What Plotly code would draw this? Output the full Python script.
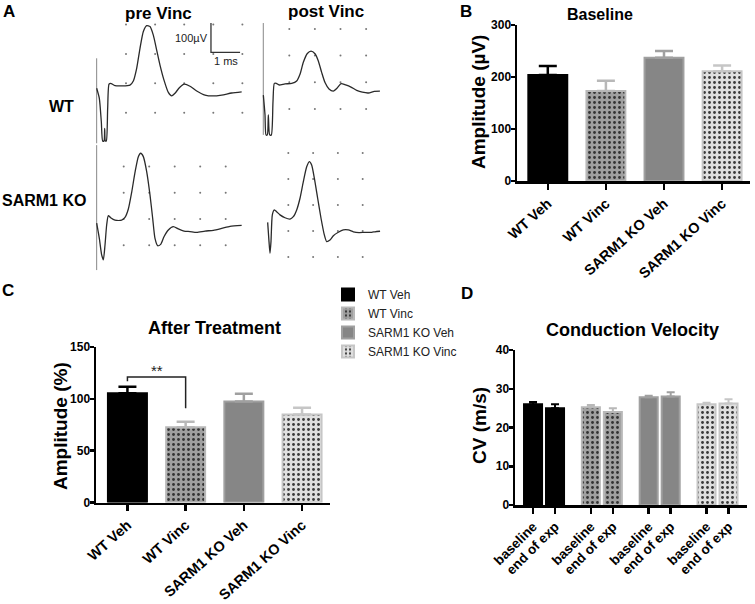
import plotly.graph_objects as go

W, H = 755, 604
FONT = "Liberation Sans, Arial, Helvetica, sans-serif"

# ---------------- data ----------------
groups = ["WT Veh", "WT Vinc", "SARM1 KO Veh", "SARM1 KO Vinc"]
baseline_amp = [204, 173, 237, 211]          # µV
baseline_amp_sem = [17, 20, 13, 11]
after_amp = [105.5, 72.6, 97.4, 84.8]        # %
after_amp_sem = [6.1, 5.2, 7.4, 6.5]
cv_baseline = [26.0, 25.2, 27.8, 26.0]       # m/s
cv_baseline_sem = [0.6, 0.6, 0.4, 0.4]
cv_end = [25.0, 24.0, 28.0, 26.2]
cv_end_sem = [1.0, 1.0, 1.1, 1.1]
cv_labels = ["baseline", "end of exp"]

sig_pair = (0, 1)
sig_top, sig_left_end, sig_right_end = 121, 117, 91
sig_label = "**"

# panel A recordings: time (ms), amplitude (µV)
wt_pre_t = [-1.008, -0.917, -0.848, -0.802, -0.756, -0.733, -0.710, -0.676, -0.630, -0.584, -0.527, -0.378,
            0.137, 0.252, 0.367, 0.481, 0.596, 0.710, 0.825, 0.939, 1.054, 1.168, 1.306, 1.455, 1.569, 1.684,
            1.833, 2.004, 2.199, 2.43, 2.715, 2.979, 3.288, 3.63, 3.975]
wt_pre_v = [-17, -51, -131, -196, -196, -153, -196, -196, -85, -3, 0, -8,
            -6, 8, 51, 119, 176, 196, 193, 164, 113, 62, 11, -31, -43, -34,
            -15, -3, -10, -26, -40, -43, -40, -33, -29]
wt_post_t = [-1.014, -0.949, -0.910, -0.858, -0.819, -0.767, -0.702, -0.637, -0.585, -0.507, -0.402, -0.168,
             0.093, 0.288, 0.418, 0.548, 0.704, 0.848, 1.004, 1.134, 1.264, 1.395, 1.551, 1.72, 1.863, 2.02,
             2.202, 2.41, 2.632, 2.853, 3.087, 3.32, 3.54]
wt_post_v = [-48, -122, -197, -197, -122, -197, -197, -73, -4, -4, -10, -6,
             -4, 5, 30, 75, 108, 117, 107, 80, 37, -1, -25, -33, -22, -5,
             -10, -18, -30, -37, -40, -34, -33]
ko_pre_t = [-1.06, -0.956, -0.864, -0.799, -0.733, -0.668, -0.603, -0.511, -0.341, -0.08, 0.051, 0.182,
            0.313, 0.443, 0.574, 0.665, 0.77, 0.901, 1.031, 1.136, 1.227, 1.332, 1.45, 1.58, 1.75, 1.946,
            2.142, 2.365, 2.6, 2.862, 3.188, 3.515, 3.842, 4.169, 4.626]
ko_pre_v = [-16, -74, -137, -156, -99, -23, 13, 5, -4, -4, 6, 38,
            102, 178, 238, 251, 238, 181, 92, 3, -74, -102, -97, -68, -42, -29,
            -38, -46, -48, -51, -46, -43, -36, -28, -24]
ko_post_t = [-0.832, -0.778, -0.738, -0.698, -0.644, -0.563, -0.469, -0.335, -0.133, 0.069, 0.203, 0.338,
             0.472, 0.606, 0.741, 0.848, 0.942, 1.05, 1.184, 1.319, 1.453, 1.547, 1.681, 1.816, 2.017,
             2.219, 2.42, 2.622, 2.851, 3.093, 3.362, 3.496, 3.70]
ko_post_v = [-67, -141, -186, -141, -38, -19, -26, -38, -49, -54, -45, -19,
             26, 90, 147, 167, 154, 103, 26, -51, -115, -141, -135, -118, -105,
             -96, -96, -103, -106, -105, -105, -103, -101]
wt_pre_art = ([-1.008, -1.008], [85, -204])
wt_post_art = ([-1.016, -1.016], [222, -197])
ko_pre_art = ([-1.06, -1.06], [282, -195])
ko_post_art = ([], [])

grid_wt_pre = ([0, 1, 2, 3, 4], [200, 100, 0, -100])
grid_wt_post = ([0, 1, 2, 3], [200, 100, 0, -100])
grid_ko_pre = ([0, 1, 2, 3, 4], [200, 100, 0, -100])
grid_ko_post = ([0, 1, 2, 3], [200, 100, 0, -100, -200])

scale_ms, scale_uv = 1, 100
scale_corner = (2.92, 105)

# ---------------- styles ----------------
styles = [
    dict(fill="#000000", border="#000000", err="#000000", pattern=None),
    dict(fill="#a0a0a0", border="#b8b8b8", err="#b8b8b8", pattern="#333333"),
    dict(fill="#868686", border="#a0a0a0", err="#a0a0a0", pattern=None),
    dict(fill="#e0e0e0", border="#c6c6c6", err="#c6c6c6", pattern="#3a3a3a"),
]


def xd(a, b):
    return [a / W, b / W]


def yd(top, bot):
    return [1 - bot / H, 1 - top / H]


def marker_for(s):
    m = dict(color=s["fill"], line=dict(color=s["border"], width=2))
    if s["pattern"]:
        m["pattern"] = dict(shape=".", fgcolor=s["pattern"], bgcolor=s["fill"],
                            size=5, solidity=0.25, fillmode="replace")
    return m


fig = go.Figure()

# Panel B
for i, g in enumerate(groups):
    s = styles[i]
    fig.add_trace(go.Bar(
        x=[i], y=[baseline_amp[i]], width=0.67, name=g, showlegend=False,
        marker=marker_for(s), xaxis="x", yaxis="y",
        error_y=dict(type="data", symmetric=False, array=[baseline_amp_sem[i]], arrayminus=[0],
                     color=s["err"], thickness=2.5, width=9)))

# Panel C
for i, g in enumerate(groups):
    s = styles[i]
    fig.add_trace(go.Bar(
        x=[i], y=[after_amp[i]], width=0.67, name=g, showlegend=True,
        marker=marker_for(s), xaxis="x2", yaxis="y2",
        error_y=dict(type="data", symmetric=False, array=[after_amp_sem[i]], arrayminus=[0],
                     color=s["err"], thickness=2.5, width=9)))

a, b = sig_pair
fig.add_trace(go.Scatter(x=[a, a, b, b], y=[sig_left_end, sig_top, sig_top, sig_right_end],
                         mode="lines", line=dict(color="#222", width=1.5), showlegend=False,
                         xaxis="x2", yaxis="y2", hoverinfo="skip"))

# Panel D
group_step = 2.63
d_tickvals, d_ticktext = [], []
for i, g in enumerate(groups):
    s = styles[i]
    for j, (vals, sems) in enumerate([(cv_baseline, cv_baseline_sem), (cv_end, cv_end_sem)]):
        pos = i * group_step + j
        d_tickvals.append(pos)
        d_ticktext.append(cv_labels[j])
        fig.add_trace(go.Bar(
            x=[pos], y=[vals[i]], width=0.82, name=g, showlegend=False,
            marker=marker_for(s), xaxis="x3", yaxis="y3",
            error_y=dict(type="data", symmetric=False, array=[sems[i]], arrayminus=[0],
                         color=s["err"], thickness=2, width=4)))

# Panel A recordings
A_geom = {
    4: dict(box=(90, 15, 252, 148), origin=(126, 83.3), sx=29.1, sy=0.294),
    5: dict(box=(256, 15, 381, 148), origin=(289.3, 82.3), sx=25.6, sy=0.267),
    6: dict(box=(90, 142, 252, 275), origin=(123.7, 219), sx=25.5, sy=0.262),
    7: dict(box=(256, 142, 381, 275), origin=(288.3, 205), sx=24.8, sy=0.26),
}
recs = {
    4: (wt_pre_t, wt_pre_v, wt_pre_art, grid_wt_pre),
    5: (wt_post_t, wt_post_v, wt_post_art, grid_wt_post),
    6: (ko_pre_t, ko_pre_v, ko_pre_art, grid_ko_pre),
    7: (ko_post_t, ko_post_v, ko_post_art, grid_ko_post),
}
for k, (tt, vv, art, grid) in recs.items():
    gx = [c for r in grid[1] for c in grid[0]]
    gy = [r for r in grid[1] for c in grid[0]]
    fig.add_trace(go.Scatter(x=gx, y=gy, mode="markers", marker=dict(size=2, color="#777"),
                             showlegend=False, xaxis=f"x{k}", yaxis=f"y{k}", hoverinfo="skip"))
    if art[0]:
        fig.add_trace(go.Scatter(x=art[0], y=art[1], mode="lines", line=dict(color="#888", width=1),
                                 showlegend=False, xaxis=f"x{k}", yaxis=f"y{k}", hoverinfo="skip"))
    fig.add_trace(go.Scatter(x=tt, y=vv, mode="lines",
                             line=dict(color="#2a2a2a", width=1.3, shape="spline", smoothing=0.6),
                             showlegend=False, xaxis=f"x{k}", yaxis=f"y{k}", hoverinfo="skip"))

# scale bar in WT pre panel
cx, cy = scale_corner
fig.add_trace(go.Scatter(x=[cx, cx, cx + scale_ms], y=[cy + scale_uv, cy, cy], mode="lines",
                         line=dict(color="#333", width=1.3), showlegend=False,
                         xaxis="x4", yaxis="y4", hoverinfo="skip"))

# ---------------- layout ----------------
bold = dict(family=FONT, color="black", weight="bold")


def ax_common(**kw):
    d = dict(showline=True, linecolor="black", linewidth=2.5, ticks="outside", ticklen=6,
             tickwidth=2.5, tickcolor="black", showgrid=False, zeroline=False, fixedrange=True,
             automargin=False)
    d.update(kw)
    return d


ytick = dict(ticklen=4, ticklabelstandoff=-3, tickfont=dict(bold, size=12))

layout = dict(
    width=W, height=H, autosize=False, margin=dict(l=0, r=0, t=0, b=0, autoexpand=False),
    paper_bgcolor="white", plot_bgcolor="rgba(0,0,0,0)", barmode="overlay",
    font=dict(family=FONT, color="black"),
    xaxis=ax_common(domain=xd(517, 750), range=[-0.53, 3.48], anchor="y",
                    tickvals=list(range(len(groups))), ticktext=groups, tickangle=-42,
                    tickfont=dict(bold, size=14.5)),
    yaxis=ax_common(domain=yd(25, 181), range=[0, 300], anchor="x", tickvals=[0, 100, 200, 300], **ytick),
    xaxis2=ax_common(domain=xd(96, 330), range=[-0.54, 3.48], anchor="y2",
                     tickvals=list(range(len(groups))), ticktext=groups, tickangle=-42,
                     tickfont=dict(bold, size=14.5)),
    yaxis2=ax_common(domain=yd(347, 502.5), range=[0, 150], anchor="x2", tickvals=[0, 50, 100, 150], **ytick),
    xaxis3=ax_common(domain=xd(515, 747), range=[-0.82, 9.73], anchor="y3",
                     tickvals=d_tickvals, ticktext=d_ticktext, tickangle=-45,
                     tickfont=dict(bold, size=13.5)),
    yaxis3=ax_common(domain=yd(350, 505), range=[0, 40], anchor="x3", tickvals=[0, 10, 20, 30, 40], **ytick),
    legend=dict(x=328 / W, y=1 - 280 / H, xanchor="left", yanchor="top", bgcolor="rgba(0,0,0,0)",
                font=dict(family=FONT, size=12, color="#222"), itemwidth=30, tracegroupgap=0),
)
for k, g in A_geom.items():
    x0, y0, x1, y1 = g["box"]
    ox, oy = g["origin"]
    layout[f"xaxis{k}"] = dict(domain=xd(x0, x1), range=[(x0 - ox) / g["sx"], (x1 - ox) / g["sx"]],
                               visible=False, anchor=f"y{k}", fixedrange=True, automargin=False)
    layout[f"yaxis{k}"] = dict(domain=yd(y0, y1), range=[(oy - y1) / g["sy"], (oy - y0) / g["sy"]],
                               visible=False, anchor=f"x{k}", fixedrange=True, automargin=False)
fig.update_layout(**layout)


def ann(text, x, y, size, weight="bold", angle=0, xanchor="center", yanchor="middle", color="black"):
    fig.add_annotation(text=text, x=x / W, y=1 - y / H, xref="paper", yref="paper", showarrow=False,
                       textangle=angle, xanchor=xanchor, yanchor=yanchor,
                       font=dict(family=FONT, size=size, color=color, weight=weight))


ann("A", 9, 11, 17)
ann("B", 466, 11, 17)
ann("C", 8, 290, 17)
ann("D", 467, 293, 17)
ann("pre Vinc", 158, 13, 17)
ann("post Vinc", 326, 12, 17)
ann("WT", 62, 107, 16)
ann("SARM1 KO", 44, 200, 16)
ann("Baseline", 600, 14, 16)
ann("After Treatment", 214, 328, 18)
ann("Conduction Velocity", 632, 330, 18)
ann("Amplitude (µV)", 479, 102, 19, angle=-90)
ann("Amplitude (%)", 60, 426, 19, angle=-90)
ann("CV (m/s)", 479, 426, 19, angle=-90)

fig.add_annotation(text="100µV", x=cx, y=155, xref="x4", yref="y4", showarrow=False, xanchor="right",
                   xshift=-1, font=dict(family=FONT, size=11, color="#222"))
fig.add_annotation(text="1 ms", x=cx, y=cy, xref="x4", yref="y4", showarrow=False, xanchor="left",
                   yanchor="top", xshift=1, yshift=-1, font=dict(family=FONT, size=11, color="#222"))
fig.add_annotation(text=sig_label, x=(a + b) / 2, y=sig_top, xref="x2", yref="y2", showarrow=False,
                   yanchor="bottom", yshift=-4, font=dict(family=FONT, size=15, color="#222"))

fig.write_html("out.html", config={"displayModeBar": False, "staticPlot": True},
               post_script="document.body.style.margin='0';document.body.style.overflow='hidden';")
